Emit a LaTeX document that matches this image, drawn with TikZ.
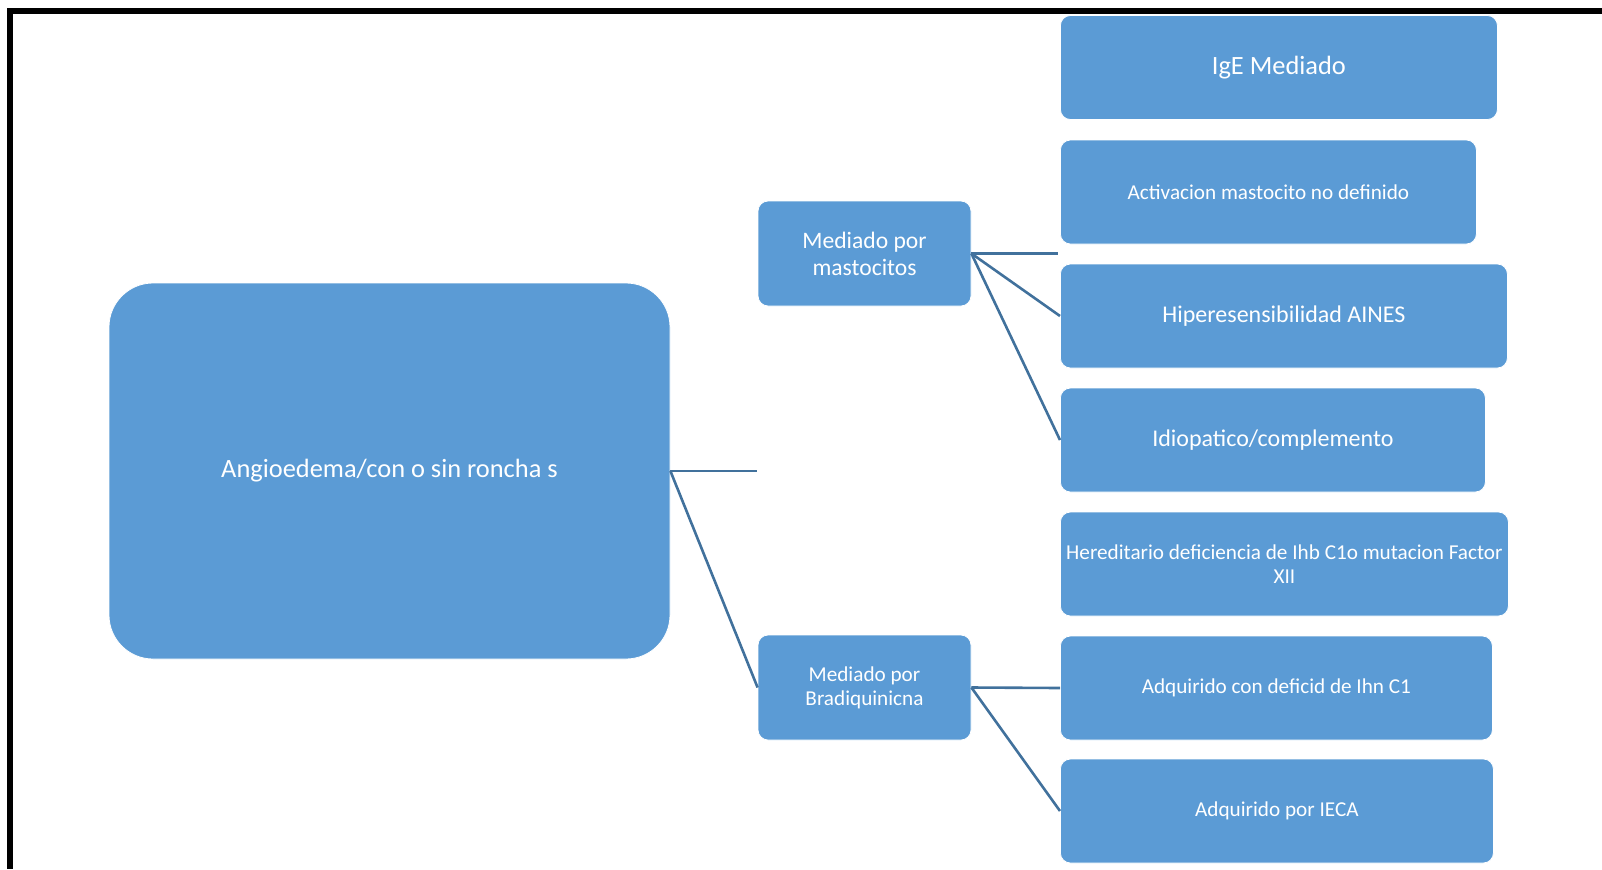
\documentclass[tikz,border=0pt]{standalone}
\usepackage{fontspec}
\setmainfont{Carlito}
\usepackage{xcolor}
\usepackage{tikz}
\usetikzlibrary{positioning, calc}
\definecolor{smartBlue}{RGB}{91,155,213}
\definecolor{smartLine}{RGB}{65,113,156}

\begin{document}
\begin{tikzpicture}[
    x=0.5pt, y=-0.5pt,
    box/.style={rectangle, rounded corners=5pt, draw=white, line width=0.4pt, fill=smartBlue, text=white, align=center, inner sep=2pt, minimum height=52pt},
    bigfont/.style={font=\fontsize{13.2}{16}\selectfont},
    midfont/.style={font=\fontsize{12}{13.5}\selectfont},
    smallfont/.style={font=\fontsize{10.6}{12}\selectfont},
    conn/.style={draw=smartLine, line width=1.3pt}
]
\useasboundingbox (0,0) rectangle (1602,869);

% frame
\draw[line width=3pt] (1602,11) -- (10,11) -- (10,869);

% root
\node[box, rounded corners=22pt, minimum width=280.5pt, minimum height=188pt, bigfont] (root) at (389.5,471) {Angioedema/con o sin roncha s};

% middle level
\node[box, minimum width=106.5pt, minimum height=52.5pt, font=\fontsize{11.8}{13.5}\selectfont] (mast) at (864.5,253.5) {Mediado por\\mastocitos};
\node[box, minimum width=106.5pt, minimum height=52.5pt, font=\fontsize{10.6}{12}\selectfont] (brad) at (864.5,687.5) {Mediado por\\Bradiquinicna};

% right column
\node[box, anchor=west, minimum width=218.5pt, bigfont] (ige) at (1060,67.5) {IgE Mediado};
\node[box, anchor=west, minimum width=208pt, smallfont] (activ) at (1060,192) {Activacion mastocito no definido};
\node[box, anchor=west, minimum width=223.5pt, midfont] (hiper) at (1060,316) {Hiperesensibilidad AINES};
\node[box, anchor=west, minimum width=212.5pt, midfont] (idio) at (1060,440) {Idiopatico/complemento};
\node[box, anchor=west, minimum width=224pt, smallfont] (hered) at (1060,564) {Hereditario deficiencia de Ihb C1o mutacion Factor\\XII};
\node[box, anchor=west, minimum width=216pt, smallfont] (adqa) at (1060,688) {Adquirido con deficid de Ihn C1};
\node[box, anchor=west, minimum width=216.5pt, smallfont] (adqb) at (1060,811) {Adquirido por IECA};

% free ends
\coordinate (rootend) at (757,471);
\coordinate (mastend) at (1058,253.5);

% connectors
\draw[conn] (root.east) -- (rootend);
\draw[conn] (root.east) -- (brad.west);
\draw[conn] (mast.east) -- (mastend);
\draw[conn] (mast.east) -- (hiper.west);
\draw[conn] (mast.east) -- (idio.west);
\draw[conn] (brad.east) -- (adqa.west);
\draw[conn] (brad.east) -- (adqb.west);

\end{tikzpicture}
\end{document}
